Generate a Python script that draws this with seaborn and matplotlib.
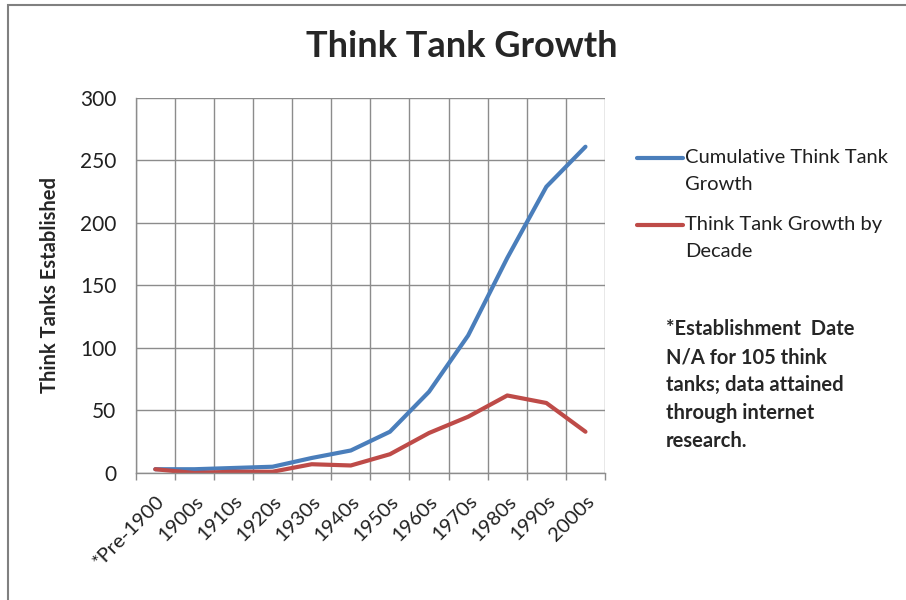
import seaborn as sns
import matplotlib.pyplot as plt
import pandas as pd
import numpy as np
from matplotlib.patches import Rectangle
from matplotlib.legend_handler import HandlerLine2D

decades = ['*Pre-1900', '1900s', '1910s', '1920s', '1930s', '1940s',
           '1950s', '1960s', '1970s', '1980s', '1990s', '2000s']
cumulative = [3, 3, 4, 5, 12, 18, 33, 65, 110, 172, 229, 261]
by_decade = [3, 0, 1, 1, 7, 6, 15, 32, 45, 62, 56, 33]

series_names = ['Cumulative Think Tank\nGrowth', 'Think Tank Growth by\nDecade']
series_colors = ['#4a7ebb', '#be4b48']

df = pd.DataFrame({
    'decade': decades * 2,
    'count': cumulative + by_decade,
    'series': [series_names[0]] * len(decades) + [series_names[1]] * len(decades),
})


class HandlerTopLine(HandlerLine2D):
    # put the legend line next to the first text row, like Excel does
    def create_artists(self, legend, orig_handle, xdescent, ydescent,
                       width, height, fontsize, trans):
        arts = super().create_artists(legend, orig_handle, xdescent, ydescent,
                                      width, height, fontsize, trans)
        for a in arts:
            a.set_ydata(np.asarray(a.get_ydata()) + 0.65 * fontsize)
        return arts


sns.set_theme(style='white')
plt.rcParams['font.family'] = ['Lato', 'DejaVu Sans']

fig = plt.figure(figsize=(9.06, 6.0), dpi=100)
ax = fig.add_axes([0.1498, 0.2117, 0.518, 0.625])

sns.lineplot(data=df, x='decade', y='count', hue='series', sort=False,
             palette=dict(zip(series_names, series_colors)),
             linewidth=3, ax=ax, legend=True)

n = len(decades)
ax.set_xlim(-0.5, n - 0.5)
ax.set_ylim(0, 300)
ax.set_yticks(np.arange(0, 301, 50))
ax.set_xticks(range(n))
ax.set_xticklabels(decades, rotation=45, ha='right', rotation_mode='anchor',
                   fontsize=14.5, color='#202020')
ax.set_xticks(np.arange(-0.5, n, 1), minor=True)
ax.tick_params(axis='x', which='major', length=0, pad=14)
ax.tick_params(axis='x', which='minor', length=5, width=1, color='#8c8c8c',
               direction='out', bottom=True)
ax.tick_params(axis='y', length=0, pad=14, labelsize=15, labelcolor='#202020')

ax.grid(True, axis='y', which='major', color='#8c8c8c', linewidth=1)
ax.grid(True, axis='x', which='minor', color='#8c8c8c', linewidth=1)
ax.grid(False, axis='x', which='major')
for s in ['top', 'right']:
    ax.spines[s].set_visible(False)
for s in ['left', 'bottom']:
    ax.spines[s].set_color('#8c8c8c')
    ax.spines[s].set_linewidth(1)

ax.set_xlabel('')
ax.set_ylabel('Think Tanks Established', fontsize=14.5, fontweight='bold',
              labelpad=14)

handles, labels = ax.get_legend_handles_labels()
leg = ax.legend(handles, labels, loc='upper left', bbox_to_anchor=(0.683, 0.782),
                bbox_transform=fig.transFigure, frameon=False, fontsize=14.5,
                handlelength=2.3, handletextpad=0.1, labelspacing=1.15,
                handler_map={h: HandlerTopLine() for h in handles})
for t in leg.get_texts():
    t.set_linespacing(1.7)
    t.set_color('#202020')

fig.text(0.51, 0.922, 'Think Tank Growth', ha='center', va='center',
         fontsize=26, fontweight='bold')

fig.text(0.735, 0.468, '*Establishment  Date\nN/A for 105 think\ntanks; data attained\nthrough internet\nresearch.',
         ha='left', va='top', fontsize=14.5, fontweight='bold', linespacing=1.5)

fig.add_artist(Rectangle((0.009, -0.5), 1.5, 1.492, transform=fig.transFigure,
                         fill=False, edgecolor='#808080', linewidth=1.5))

fig.savefig('out.png', dpi=100)
